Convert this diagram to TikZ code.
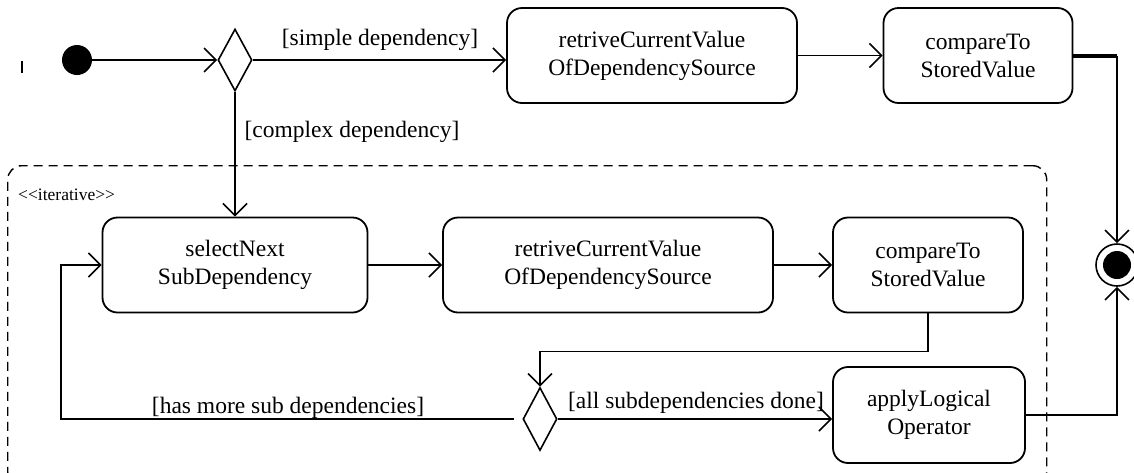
\documentclass[tikz,border=0pt]{standalone}
\usepackage{fontspec}
\setmainfont{Liberation Serif}
\usetikzlibrary{arrows.meta,shapes.geometric}
\begin{document}
\begin{tikzpicture}[x=1pt,y=-1pt,
  act/.style={draw,rounded corners=15pt,line width=1.8pt,align=center,inner sep=0pt,font=\fontsize{23.5}{28}\selectfont},
  dec/.style={draw,diamond,line width=1.6pt,minimum width=34pt,minimum height=62pt,inner sep=0pt},
  flow/.style={line width=1.6pt,-{Straight Barb[length=12pt,width=24pt,line width=1.6pt]}},
  guard/.style={font=\fontsize{23.5}{28}\selectfont,inner sep=0pt,anchor=base},
]
\useasboundingbox (0,0) rectangle (1134,472);

% region
\node[draw,dash pattern=on 9pt off 6pt,line width=1.4pt,rounded corners=14pt,minimum width=1039pt,minimum height=320pt,inner sep=0pt,anchor=north west] (region) at (7,165) {};
\node[font=\fontsize{17.5}{20}\selectfont,inner sep=0pt,anchor=base west] (iter) at (18,200) {<\kern0pt<iterative>\kern0pt>};

% stray mark
\draw[line width=1.6pt] (22,61) -- (22,73);

% nodes
\node[circle,fill=black,minimum size=30pt,inner sep=0pt] (start) at (77,60) {};
\node[dec] (d1) at (235,60) {};
\node[act,minimum width=290pt,minimum height=95pt] (box1) at (652,55.5) {retriveCurrentValue\\OfDependencySource};
\node[act,minimum width=189pt,minimum height=95pt] (cmp1) at (978,55.5) {compareTo\\StoredValue};

\node[circle,draw,line width=1.6pt,minimum size=42pt,inner sep=0pt] (fin) at (1117,265) {};
\node[circle,fill=black,minimum size=28pt,inner sep=0pt] (fincore) at (fin) {};

\node[act,minimum width=265pt,minimum height=95pt] (sel) at (235,265) {selectNext\\SubDependency};
\node[act,minimum width=330pt,minimum height=95pt] (ret2) at (608,265) {retriveCurrentValue\\OfDependencySource};
\node[act,minimum width=190pt,minimum height=95pt] (cmp2) at (928,265) {compareTo\\StoredValue};
\node[dec,minimum height=63pt] (d2) at (540,419) {};
\node[act,minimum width=192pt,minimum height=96pt] (app) at (929,415) {applyLogical\\Operator};

\coordinate (lp) at (61,0);
\coordinate (j1) at (1117,55.5);

% connectors
\draw[flow] (start) -- (d1);
\draw[flow] (d1.east) -- (d1.east -| box1.west);
\draw[flow] (box1) -- (cmp1);
\draw[line width=4pt] (cmp1.east) -- (j1);
\draw[flow] (j1) -- (fin.north);
\draw[flow] (d1.south) -- (sel.north);
\draw[flow] (sel) -- (ret2);
\draw[flow] (ret2) -- (cmp2);
\draw[flow] (cmp2.south) -- ++(0,38) -| (d2.north);
\draw[flow] (d2.east) -- (d2.east -| app.west);
\draw[flow,shorten <=8pt] (d2.west) -- (d2.west -| lp) -- (sel.west -| lp) -- (sel.west);
\draw[flow] (app.east) -| (fin.south);

% guards
\node[guard] (g1) at (380,45) {[simple dependency]};
\node[guard] (g2) at (352,137) {[complex dependency]};
\node[guard] (g3) at (696,408) {[all subdependencies done]};
\node[guard] (g4) at (288,413) {[has more sub dependencies]};
\end{tikzpicture}
\end{document}
